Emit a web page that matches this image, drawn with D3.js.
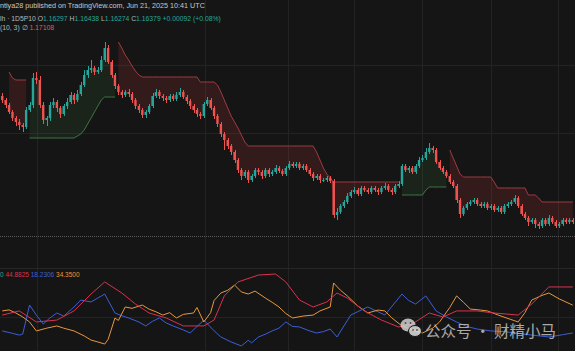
<!DOCTYPE html>
<html><head><meta charset="utf-8">
<script src="https://cdn.jsdelivr.net/npm/d3@7"></script>
<style>html,body{margin:0;padding:0;background:#151515;overflow:hidden}</style>
</head><body><svg id="c" width="575" height="351"></svg>
<script>
// ---------- DATA ----------
const opens=[1.1764,1.1760,1.1755,1.1748,1.1742,1.1738,1.1735,1.1733,1.1750,1.1755,
1.1782,1.1780,1.1755,1.1740,1.1742,1.1755,1.1758,1.1752,1.1746,1.1754,
1.1758,1.1765,1.1760,1.1766,1.1775,1.1785,1.1790,1.1792,1.1788,1.1790,
1.1800,1.1812,1.1798,1.1785,1.1774,1.1768,1.1765,1.1768,1.1766,1.1760,
1.1754,1.1750,1.1745,1.1748,1.1754,1.1764,1.1768,1.1764,1.1762,1.1760,
1.1764,1.1761,1.1765,1.1768,1.1763,1.1759,1.1754,1.1750,1.1746,1.1744,
1.1756,1.1760,1.1752,1.1744,1.1736,1.1726,1.1720,1.1714,1.1708,1.1700,
1.1690,1.1684,1.1688,1.1680,1.1684,1.1690,1.1688,1.1684,1.1690,1.1686,
1.1688,1.1692,1.1689,1.1686,1.1692,1.1696,1.1694,1.1696,1.1692,1.1694,
1.1690,1.1686,1.1682,1.1684,1.1680,1.1680,1.1682,1.1679,1.1645,1.1648,
1.1654,1.1658,1.1664,1.1668,1.1670,1.1666,1.1672,1.1670,1.1668,1.1672,
1.1670,1.1668,1.1672,1.1674,1.1670,1.1668,1.1674,1.1676,1.1694,1.1690,
1.1692,1.1688,1.1694,1.1700,1.1702,1.1708,1.1712,1.1710,1.1698,1.1692,
1.1688,1.1684,1.1678,1.1674,1.1660,1.1646,1.1652,1.1656,1.1658,1.1660,
1.1656,1.1654,1.1656,1.1652,1.1654,1.1650,1.1652,1.1648,1.1654,1.1656,
1.1658,1.1662,1.1654,1.1646,1.1642,1.1638,1.1640,1.1636,1.1634,1.1640,
1.1636,1.1642,1.1638,1.1634,1.1636,1.1640,1.1638,1.1640];
const highs=[1.1767,1.1762,1.1757,1.1750,1.1744,1.1741,1.1737,1.1753,1.1758,1.1787,
1.1788,1.1784,1.1758,1.1744,1.1758,1.1762,1.1760,1.1754,1.1756,1.1762,
1.1768,1.1767,1.1770,1.1778,1.1790,1.1794,1.1800,1.1794,1.1793,1.1804,
1.1818,1.1815,1.1800,1.1787,1.1776,1.1770,1.1770,1.1771,1.1768,1.1762,
1.1756,1.1752,1.1750,1.1756,1.1767,1.1771,1.1770,1.1766,1.1764,1.1766,
1.1766,1.1768,1.1772,1.1770,1.1765,1.1761,1.1756,1.1752,1.1748,1.1758,
1.1763,1.1762,1.1754,1.1746,1.1738,1.1728,1.1722,1.1716,1.1710,1.1702,
1.1692,1.1690,1.1690,1.1686,1.1692,1.1692,1.1690,1.1692,1.1692,1.1690,
1.1695,1.1694,1.1691,1.1694,1.1699,1.1698,1.1698,1.1698,1.1696,1.1696,
1.1692,1.1688,1.1686,1.1686,1.1682,1.1684,1.1684,1.1681,1.1652,1.1656,
1.1660,1.1667,1.1670,1.1673,1.1672,1.1674,1.1674,1.1672,1.1674,1.1674,
1.1672,1.1674,1.1677,1.1676,1.1672,1.1676,1.1679,1.1696,1.1696,1.1694,
1.1694,1.1696,1.1703,1.1705,1.1712,1.1717,1.1714,1.1712,1.1700,1.1694,
1.1690,1.1686,1.1680,1.1676,1.1662,1.1654,1.1658,1.1660,1.1662,1.1662,
1.1658,1.1658,1.1658,1.1656,1.1656,1.1654,1.1654,1.1656,1.1658,1.1660,
1.1665,1.1664,1.1656,1.1648,1.1644,1.1642,1.1642,1.1638,1.1642,1.1642,
1.1645,1.1644,1.1640,1.1638,1.1642,1.1642,1.1642,1.1642];
const lows=[1.1757,1.1752,1.1746,1.1739,1.1734,1.1730,1.1728,1.1731,1.1748,1.1752,
1.1776,1.1752,1.1736,1.1734,1.1739,1.1752,1.1748,1.1742,1.1744,1.1751,
1.1756,1.1756,1.1758,1.1764,1.1773,1.1782,1.1787,1.1785,1.1786,1.1788,
1.1798,1.1796,1.1782,1.1771,1.1765,1.1762,1.1763,1.1763,1.1757,1.1751,
1.1747,1.1742,1.1742,1.1746,1.1752,1.1762,1.1761,1.1759,1.1757,1.1758,
1.1759,1.1759,1.1763,1.1761,1.1756,1.1751,1.1747,1.1743,1.1741,1.1742,
1.1754,1.1750,1.1741,1.1733,1.1723,1.1710,1.1711,1.1705,1.1697,1.1687,
1.1680,1.1682,1.1677,1.1678,1.1682,1.1685,1.1681,1.1682,1.1683,1.1684,
1.1686,1.1687,1.1684,1.1684,1.1690,1.1692,1.1692,1.1690,1.1690,1.1688,
1.1684,1.1679,1.1680,1.1677,1.1678,1.1678,1.1677,1.1642,1.1640,1.1646,
1.1652,1.1656,1.1662,1.1666,1.1664,1.1664,1.1668,1.1666,1.1666,1.1668,
1.1665,1.1666,1.1670,1.1668,1.1665,1.1666,1.1672,1.1674,1.1688,1.1687,
1.1686,1.1686,1.1692,1.1698,1.1700,1.1706,1.1707,1.1696,1.1690,1.1686,
1.1682,1.1676,1.1672,1.1657,1.1642,1.1644,1.1650,1.1654,1.1656,1.1654,
1.1652,1.1652,1.1650,1.1650,1.1648,1.1648,1.1646,1.1646,1.1652,1.1654,
1.1656,1.1652,1.1644,1.1640,1.1634,1.1636,1.1632,1.1631,1.1632,1.1634,
1.1634,1.1636,1.1632,1.1632,1.1634,1.1636,1.1636,1.1636];
const closes=[1.1760,1.1755,1.1748,1.1742,1.1738,1.1735,1.1733,1.1750,1.1755,1.1782,
1.1780,1.1755,1.1740,1.1742,1.1755,1.1758,1.1752,1.1746,1.1754,1.1758,
1.1765,1.1760,1.1766,1.1775,1.1785,1.1790,1.1792,1.1788,1.1790,1.1800,
1.1812,1.1798,1.1785,1.1774,1.1768,1.1765,1.1768,1.1766,1.1760,1.1754,
1.1750,1.1745,1.1748,1.1754,1.1764,1.1768,1.1764,1.1762,1.1760,1.1764,
1.1761,1.1765,1.1768,1.1763,1.1759,1.1754,1.1750,1.1746,1.1744,1.1756,
1.1760,1.1752,1.1744,1.1736,1.1726,1.1720,1.1714,1.1708,1.1700,1.1690,
1.1684,1.1688,1.1680,1.1684,1.1690,1.1688,1.1684,1.1690,1.1686,1.1688,
1.1692,1.1689,1.1686,1.1692,1.1696,1.1694,1.1696,1.1692,1.1694,1.1690,
1.1686,1.1682,1.1684,1.1680,1.1680,1.1682,1.1679,1.1645,1.1648,1.1654,
1.1658,1.1664,1.1668,1.1670,1.1666,1.1672,1.1670,1.1668,1.1672,1.1670,
1.1668,1.1672,1.1674,1.1670,1.1668,1.1674,1.1676,1.1694,1.1690,1.1692,
1.1688,1.1694,1.1700,1.1702,1.1708,1.1712,1.1710,1.1698,1.1692,1.1688,
1.1684,1.1678,1.1674,1.1660,1.1646,1.1652,1.1656,1.1658,1.1660,1.1656,
1.1654,1.1656,1.1652,1.1654,1.1650,1.1652,1.1648,1.1654,1.1656,1.1658,
1.1662,1.1654,1.1646,1.1642,1.1638,1.1640,1.1636,1.1634,1.1640,1.1636,
1.1642,1.1638,1.1634,1.1636,1.1640,1.1638,1.1640,1.1638];

// SuperTrend stop segments (start bar + values)
const downStop1Start=2;
const downStop1=[1.1788,1.1782,1.1780,1.1780,1.1780,1.1780];
const upStop1Start=8;
const upStop1=[1.1722,1.1722,1.1722,1.1722,1.1722,1.1722,1.1722,1.1722,1.1722,1.1722,1.1722,1.1722,1.1722,1.1722,
1.1724,1.1726,1.1730,1.1736,1.1742,1.1748,1.1754,1.1760,1.1763,1.1763,1.1763,1.1763];
const downStop2Start=34;
const downStop2=[1.1818,1.1812,1.1805,1.1800,1.1794,1.1789,1.1785,1.1783,
1.1783,1.1783,1.1783,1.1783,1.1783,1.1783,1.1783,1.1783,1.1783,1.1783,1.1783,1.1783,1.1783,1.1783,1.1783,1.1783,
1.1778,1.1778,1.1778,1.1778,1.1778,
1.1775,1.1768,1.1760,1.1752,1.1744,1.1738,1.1732,1.1725,1.1718,
1.1714,1.1714,1.1714,1.1714,1.1714,1.1714,1.1714,1.1714,1.1714,1.1714,1.1714,1.1714,1.1714,1.1714,1.1714,1.1714,1.1714,1.1714,1.1714,1.1714,
1.1708,1.1700,1.1692,1.1686,1.1682,
1.1678,1.1678,1.1678,1.1678,1.1678,1.1678,1.1678,1.1678,1.1678,1.1678,1.1678,1.1678,1.1678,1.1678,1.1678,1.1678,1.1678,1.1678,1.1678,1.1678];
const upStop2Start=117;
const upStop2=[1.1665,1.1665,1.1665,1.1665,1.1665,1.1665,1.1665,1.1670,1.1673,1.1673,1.1673,1.1673,1.1673,1.1673];
const downStop3Start=131;
const downStop3=[1.1710,1.1702,1.1694,1.1686,1.1683,1.1683,1.1683,1.1683,1.1683,1.1683,1.1683,1.1683,1.1683,
1.1678,1.1672,1.1672,1.1672,1.1672,1.1672,1.1672,1.1672,1.1672,1.1672,
1.1665,1.1665,1.1665,1.1662,
1.1658,1.1658,1.1658,1.1658,1.1658,1.1658,1.1658,1.1658,1.1658,1.1658];

const priceLine=1.1624;

// Oscillator lines: [bar, value]
const adxLine=[[0,28.6],[5,31.0],[10,24.6],[16,25.7],[21,31.0],[26,40.8],[30,47.8],[35,41.4],[39,35.0],[43,29.8],[48,26.9],[53,22.3],[59,22.3],[62,25.7],[65,39.7],[69,47.8],[75,51.8],[80,52.4],[83,47.8],[87,37.3],[91,33.3],[95,36.2],[98,41.4],[101,38.5],[106,31.0],[111,25.7],[116,21.7],[120,23.4],[125,29.8],[129,27.5],[133,31.0],[139,31.0],[144,29.8],[151,28.6],[155,35.0],[160,44.9],[167,44.88]];
const diMinusLine=[[0,19.4],[3,18.0],[5,17.0],[6,17.6],[8,34.4],[10,28.6],[12,23.4],[14,27.0],[16,29.8],[18,28.0],[21,33.3],[23,37.3],[26,36.2],[28,38.5],[30,40.8],[33,29.8],[35,28.2],[37,26.9],[40,24.6],[42,22.3],[44,25.0],[46,26.9],[48,24.0],[50,22.3],[53,20.0],[55,18.2],[59,25.7],[62,19.5],[64,15.9],[67,13.0],[70,10.7],[72,14.0],[73,12.5],[75,15.9],[77,17.5],[79,19.4],[81,21.0],[83,24.6],[85,22.0],[87,21.7],[90,19.4],[92,18.2],[94,19.0],[96,20.5],[98,15.9],[102,28.6],[104,30.5],[107,33.3],[110,30.5],[112,28.6],[117,40.8],[119,37.0],[121,35.0],[124,39.7],[127,31.0],[130,27.5],[133,24.6],[136,22.0],[139,20.5],[143,19.4],[147,19.0],[150,18.2],[155,17.0],[160,15.9],[164,17.2],[167,18.23]];
const diPlusLine=[[0,31.0],[2,31.6],[4,29.8],[6,27.5],[8,24.6],[10,19.4],[13,21.0],[16,22.3],[18,21.0],[21,19.4],[24,16.5],[26,14.1],[28,13.0],[30,11.8],[31,14.5],[33,26.9],[34,25.5],[36,33.3],[38,32.5],[41,34.4],[43,32.0],[45,30.5],[47,28.6],[49,30.0],[51,26.9],[53,29.0],[56,29.8],[57,33.0],[59,24.6],[61,30.0],[62,37.0],[64,41.4],[66,43.0],[68,46.0],[70,42.0],[72,40.8],[74,42.5],[77,38.5],[79,36.0],[81,33.3],[83,29.5],[85,26.9],[88,28.0],[91,28.6],[93,31.0],[96,33.3],[97,47.2],[99,43.0],[101,39.7],[104,34.0],[107,29.8],[110,31.5],[112,31.0],[114,27.0],[117,22.3],[120,20.0],[123,18.2],[126,21.0],[128,24.6],[131,33.0],[133,39.7],[135,36.0],[137,32.1],[140,31.5],[142,31.0],[146,28.0],[151,24.6],[153,30.0],[155,37.3],[158,40.0],[160,41.4],[163,38.0],[167,34.35]];

const legendValues=["44.8825","18.2306","34.3500"];

// ---------- DRAW ----------
const W=575,H=351,N=closes.length;
const svg=d3.select("#c");
svg.append("rect").attr("width",W).attr("height",H).attr("fill","#151515");

const x=d3.scaleBand().domain(d3.range(N)).range([0,W]).padding(0.3);
const xc=i=>x(i)+x.bandwidth()/2;
const xLin=d3.scaleLinear().domain([-0.5,N-0.5]).range([0,W]);
const y=d3.scaleLinear().domain([1.1509,1.1860]).range([H,0]);
const yo=d3.scaleLinear().domain([8,60]).range([350.6,260.9]);

// grid
const grid=svg.append("g").attr("stroke","#232323").attr("stroke-width",1);
[10.3,59.5,83.7,103,122.9,143,162.4].forEach(b=>{
  grid.append("line").attr("x1",Math.round(xLin(b))+0.5).attr("x2",Math.round(xLin(b))+0.5).attr("y1",0).attr("y2",H);
});
[1.1795,1.1727].forEach(p=>{
  grid.append("line").attr("x1",0).attr("x2",W).attr("y1",Math.round(y(p))+0.5).attr("y2",Math.round(y(p))+0.5);
});
grid.append("line").attr("x1",0).attr("x2",W).attr("y1",268.5).attr("y2",268.5).attr("stroke","#262626");
grid.append("line").attr("x1",0).attr("x2",W).attr("y1",Math.round(yo(27.5))+0.5).attr("y2",Math.round(yo(27.5))+0.5);

// price line dotted
svg.append("line").attr("x1",0).attr("x2",W).attr("y1",Math.round(y(priceLine))+0.5).attr("y2",Math.round(y(priceLine))+0.5)
  .attr("stroke","#5a5a5a").attr("stroke-dasharray","1,1");

// supertrend
const segs=[
  {start:downStop1Start,vals:downStop1,dir:-1},
  {start:upStop1Start,vals:upStop1,dir:1},
  {start:downStop2Start,vals:downStop2,dir:-1},
  {start:upStop2Start,vals:upStop2,dir:1},
  {start:downStop3Start,vals:downStop3,dir:-1}
];
segs.forEach(s=>{
  const pts=s.vals.map((v,k)=>({i:s.start+k,v:v,m:(opens[s.start+k]+closes[s.start+k])/2}));
  const area=d3.area().x(d=>xc(d.i)).y0(d=>y(d.v)).y1(d=>y(d.m));
  svg.append("path").datum(pts).attr("d",area)
    .attr("fill",s.dir<0?"rgba(200,55,60,0.17)":"rgba(70,160,80,0.11)");
  svg.append("path").datum(pts).attr("d",d3.line().x(d=>xc(d.i)).y(d=>y(d.v)))
    .attr("fill","none").attr("stroke",s.dir<0?"#9c3c44":"#3f7446").attr("stroke-width",1);
});

// candles
const bars=d3.range(N).map(i=>({i,o:opens[i],h:highs[i],l:lows[i],c:closes[i]}));
const cg=svg.append("g");
cg.selectAll("line.w").data(bars).join("line")
  .attr("x1",d=>Math.round(xc(d.i))+0.5).attr("x2",d=>Math.round(xc(d.i))+0.5)
  .attr("y1",d=>y(d.h)).attr("y2",d=>y(d.l))
  .attr("stroke",d=>d.c>=d.o?"#26a69a":"#ef5350").attr("stroke-width",1);
cg.selectAll("rect").data(bars).join("rect")
  .attr("x",d=>x(d.i)).attr("width",x.bandwidth())
  .attr("y",d=>y(Math.max(d.o,d.c))).attr("height",d=>Math.max(1,Math.abs(y(d.o)-y(d.c))))
  .attr("fill",d=>d.c>=d.o?"#26a69a":"#ef5350");

// oscillator
const ol=d3.line().x(d=>xc(d[0])).y(d=>yo(d[1]));
[[diMinusLine,"#3c5fd6"],[diPlusLine,"#e8973e"],[adxLine,"#d8324f"]].forEach(([data,col])=>{
  svg.append("path").datum(data).attr("d",ol).attr("fill","none").attr("stroke",col).attr("stroke-width",1);
});

// header texts
const font="'Liberation Sans', Arial, sans-serif";
svg.append("text").attr("x",0).attr("y",8).attr("font-family",font).attr("font-size",7.2).attr("fill","#c8c8c8")
  .text("ntiya28 published on TradingView.com, Jun 21, 2025 10:41 UTC");
const t2=svg.append("text").attr("x",0).attr("y",21).attr("font-family",font).attr("font-size",6.8).attr("fill","#b8b8b8");
t2.append("tspan").text("lh · 1D5P10  O");
t2.append("tspan").attr("fill","#26a69a").text("1.16297 ");
t2.append("tspan").text("H");
t2.append("tspan").attr("fill","#26a69a").text("1.16438 ");
t2.append("tspan").text("L");
t2.append("tspan").attr("fill","#26a69a").text("1.16274 ");
t2.append("tspan").text("C");
t2.append("tspan").attr("fill","#26a69a").text("1.16379 +0.00092 (+0.08%)");
const t3=svg.append("text").attr("x",0).attr("y",30).attr("font-family",font).attr("font-size",6.8).attr("fill","#b8b8b8");
t3.append("tspan").text("(10, 3)  ∅  ");
t3.append("tspan").attr("fill","#ef5350").text("1.17108");

// oscillator legend
const t4=svg.append("text").attr("x",0).attr("y",277).attr("font-family",font).attr("font-size",6.5);
t4.append("tspan").attr("fill","#26a69a").text("0 ");
t4.append("tspan").attr("fill","#d8324f").text(legendValues[0]+"  ");
t4.append("tspan").attr("fill","#3c5fd6").text(legendValues[1]+"  ");
t4.append("tspan").attr("fill","#e8973e").text(legendValues[2]);

// watermark
const wm=svg.append("g").attr("opacity",0.85);
wm.append("ellipse").attr("cx",408).attr("cy",325).attr("rx",7.5).attr("ry",6.5).attr("fill","#cfcfcf");
wm.append("ellipse").attr("cx",415).attr("cy",331).attr("rx",6.5).attr("ry",5.5).attr("fill","#e0e0e0").attr("stroke","#151515").attr("stroke-width",1);
[[405.5,323],[410.5,323],[413,330],[417,330]].forEach(p=>wm.append("circle").attr("cx",p[0]).attr("cy",p[1]).attr("r",0.9).attr("fill","#555"));
wm.append("text").attr("x",425).attr("y",337).attr("font-family","'Noto Sans CJK SC', sans-serif")
  .attr("font-size",15.5).attr("fill","#c4c4c4").text("公众号 · 财精小马");
</script></body></html>
